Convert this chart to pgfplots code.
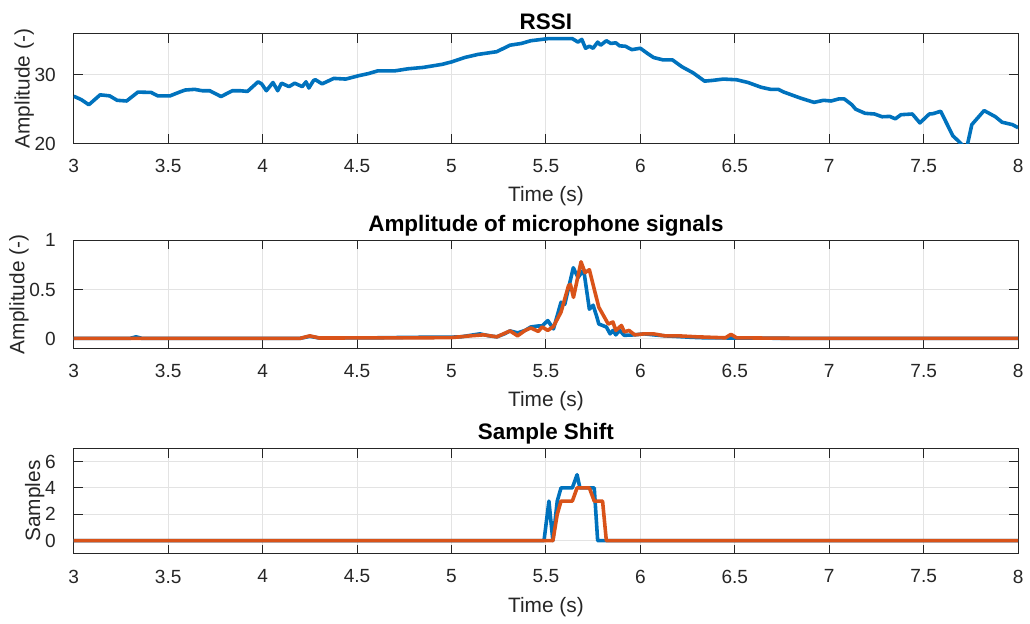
\documentclass[border=0pt]{standalone}
\usepackage{fontspec}
\setmainfont{Liberation Sans}
\usepackage{pgfplots}
\pgfplotsset{compat=1.18}
\definecolor{mblue}{HTML}{0072BD}
\definecolor{morange}{HTML}{D95319}
\definecolor{axgray}{HTML}{262626}
\definecolor{gridgray}{HTML}{E3E3E3}

\pgfplotsset{
  mstyle/.style={
    scale only axis, width=474bp,
    xmin=3, xmax=8, xtick={3,3.5,...,8},
    axis line style={axgray, line width=0.5bp},
    tick style={axgray, line width=0.5bp},
    major tick length=4.7bp,
    tick align=inside,
    xtick pos=both, ytick pos=both,
    grid=major, major grid style={gridgray, line width=0.5bp},
    ticklabel style={font=\fontsize{9.6}{11}\selectfont, text=axgray},
    xticklabel style={yshift=-4.5bp},
    yticklabel style={xshift=-5.5bp},
    label style={font=\fontsize{10.5}{12}\selectfont, text=axgray},
    title style={font=\fontsize{11.3}{13}\selectfont\bfseries, yshift=-7.5bp},
    /pgf/number format/assume math mode=true,
    xlabel={Time (s)},
    xlabel style={yshift=0bp},
    ylabel style={yshift=-6.5bp},
    every axis plot/.append style={line width=1.8bp, line join=round},
  }
}

\begin{document}
\begin{tikzpicture}
\path (0bp,0bp) rectangle (515bp,-312bp);

% RSSI
\begin{axis}[mstyle, at={(37bp,-17bp)}, anchor=north west, height=55bp,
  ymin=20, ymax=36, ytick={20,30}, ylabel={Amplitude (-)}, title={RSSI}]
\addplot[mblue] coordinates {
(3.00,26.9) (3.04,26.4) (3.08,25.65) (3.14,27.1) (3.19,26.95) (3.23,26.3) (3.28,26.2)
(3.31,26.85) (3.34,27.5) (3.41,27.45) (3.445,26.95) (3.51,26.95) (3.56,27.5) (3.59,27.8)
(3.64,27.9) (3.68,27.7) (3.72,27.7) (3.78,26.85) (3.84,27.7) (3.88,27.7) (3.92,27.6)
(3.94,28.1) (3.976,29.0) (3.995,28.7) (4.02,27.7) (4.055,28.9) (4.08,27.7) (4.10,28.8)
(4.14,28.3) (4.17,28.8) (4.21,28.3) (4.23,29.0) (4.245,28.1) (4.27,29.2) (4.28,29.3)
(4.315,28.7) (4.377,29.5) (4.44,29.4) (4.51,29.9) (4.56,30.2) (4.61,30.6) (4.70,30.6)
(4.77,30.9) (4.85,31.1) (4.95,31.55) (5.00,31.9) (5.07,32.55) (5.14,33.0) (5.24,33.4)
(5.31,34.35) (5.37,34.6) (5.42,35.0) (5.51,35.3) (5.56,35.3) (5.64,35.3) (5.67,34.8)
(5.69,35.2) (5.71,33.9) (5.73,34.2) (5.75,33.9) (5.774,34.8) (5.79,34.35) (5.82,35.0)
(5.844,34.6) (5.87,34.7) (5.89,34.25) (5.92,34.2) (5.955,33.7) (6.00,33.9) (6.04,33.1)
(6.07,32.55) (6.12,32.2) (6.17,32.2) (6.22,31.2) (6.28,30.3) (6.34,29.1) (6.38,29.2)
(6.44,29.4) (6.51,29.3) (6.57,28.9) (6.64,28.2) (6.69,27.9) (6.73,27.9) (6.76,27.5)
(6.79,27.2) (6.85,26.6) (6.92,26.0) (6.97,26.3) (7.01,26.2) (7.05,26.5) (7.08,26.5)
(7.12,25.65) (7.14,25.0) (7.19,24.4) (7.24,24.3) (7.28,23.9) (7.32,23.95) (7.35,23.6)
(7.38,24.2) (7.44,24.3) (7.48,23.0) (7.53,24.3) (7.55,24.35) (7.59,24.7) (7.655,21.1)
(7.69,20.2) (7.71,19.6) (7.73,19.6) (7.755,22.75) (7.82,24.8) (7.88,23.9) (7.915,23.1)
(7.97,22.75) (8.00,22.3)
};
\end{axis}

% microphone amplitude
\begin{axis}[mstyle, at={(37bp,-120.5bp)}, anchor=north west, height=54.5bp,
  ymin=-0.1, ymax=1, ytick={0,0.5,1}, ylabel={Amplitude (-)},
  title={Amplitude of microphone signals}]
\addplot[mblue] coordinates {
(3,0.005) (3.3,0.005) (3.33,0.02) (3.36,0.005) (4.2,0.005) (4.25,0.025) (4.3,0.008)
(4.6,0.01) (4.8,0.015) (5.0,0.017) (5.05,0.02) (5.1,0.035) (5.15,0.05) (5.2,0.03)
(5.24,0.02) (5.28,0.05) (5.31,0.08) (5.35,0.06) (5.39,0.085) (5.42,0.12) (5.46,0.13)
(5.48,0.13) (5.51,0.185) (5.54,0.1) (5.58,0.37) (5.60,0.35) (5.645,0.72) (5.67,0.62)
(5.70,0.70) (5.73,0.30) (5.75,0.34) (5.77,0.22) (5.78,0.15) (5.82,0.12) (5.84,0.05)
(5.855,0.085) (5.87,0.04) (5.89,0.085) (5.915,0.035) (5.97,0.04) (6.02,0.05) (6.07,0.04)
(6.13,0.03) (6.18,0.025) (6.27,0.015) (6.34,0.01) (6.5,0.008) (6.8,0.005) (8,0.005)
};
\addplot[morange] coordinates {
(3,0.005) (4.2,0.005) (4.25,0.03) (4.3,0.008) (4.8,0.01) (5.0,0.012) (5.1,0.03)
(5.17,0.04) (5.24,0.02) (5.31,0.08) (5.35,0.03) (5.39,0.085) (5.42,0.11) (5.46,0.075)
(5.48,0.12) (5.51,0.085) (5.54,0.125) (5.58,0.27) (5.62,0.54) (5.63,0.55) (5.646,0.42)
(5.686,0.78) (5.707,0.67) (5.73,0.70) (5.78,0.32) (5.83,0.15) (5.855,0.17) (5.87,0.085)
(5.90,0.135) (5.915,0.07) (5.94,0.085) (5.97,0.04) (6.02,0.05) (6.07,0.05) (6.13,0.03)
(6.2,0.03) (6.3,0.02) (6.45,0.01) (6.48,0.045) (6.51,0.01) (6.8,0.005) (8,0.005)
};
\end{axis}

% sample shift
\begin{axis}[mstyle, at={(37bp,-225bp)}, anchor=north west, height=53bp,
  ymin=-1, ymax=7, ytick={0,2,4,6}, ylabel={Samples}, title={Sample Shift}]
\addplot[mblue] coordinates {
(3,0) (5.49,0) (5.516,3) (5.537,0) (5.56,3) (5.58,4) (5.64,4) (5.665,5) (5.68,4)
(5.756,4) (5.774,0) (8,0)
};
\addplot[morange] coordinates {
(3,0) (5.537,0) (5.56,2) (5.58,3) (5.64,3) (5.665,4) (5.73,4) (5.756,3) (5.80,3)
(5.82,0) (8,0)
};
\end{axis}
\end{tikzpicture}
\end{document}
